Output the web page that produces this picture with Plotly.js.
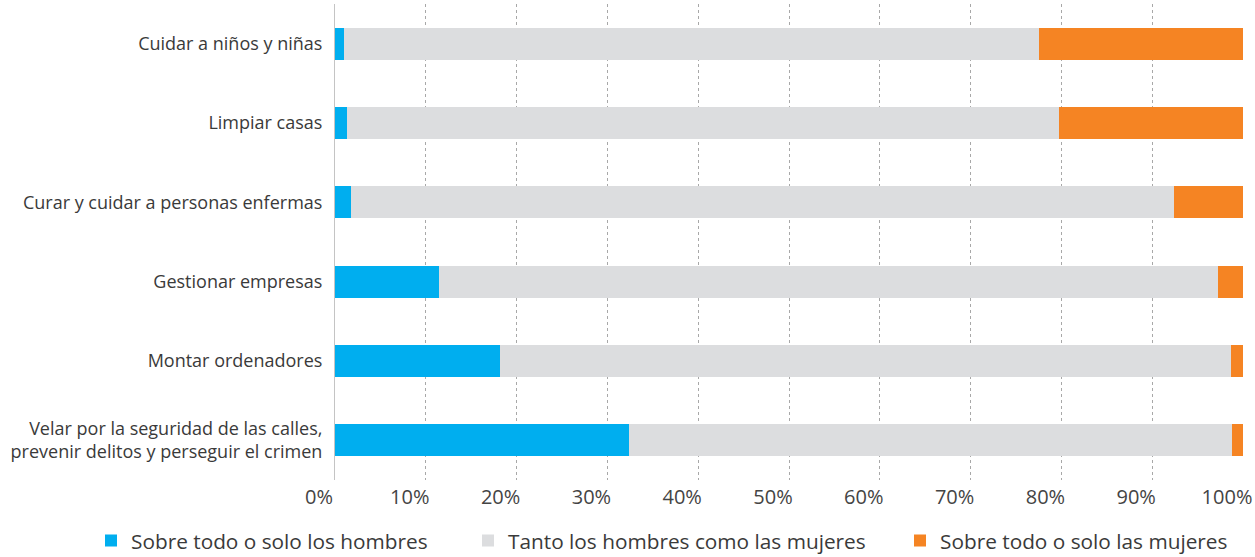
<!DOCTYPE html>
<html>
<head>
<meta charset="utf-8">
<script src="https://cdn.plot.ly/plotly-3.0.1.min.js"></script>
<style>html,body{margin:0;padding:0;background:#fff;}#chart{width:1255px;height:557px;}</style>
</head>
<body>
<div id="chart"></div>
<script>
const categories = [
  "Velar por la seguridad de las calles,<br>prevenir delitos y perseguir el crimen",
  "Montar ordenadores",
  "Gestionar empresas",
  "Curar y cuidar a personas enfermas",
  "Limpiar casas",
  "Cuidar a niños y niñas"
];
const hombres = [32.4, 18.2, 11.4, 1.8, 1.3, 1.0];
const ambos = [66.4, 80.5, 85.9, 90.6, 78.4, 76.5];
const mujeres = [1.2, 1.3, 2.7, 7.6, 20.3, 22.5];
const seriesNames = ["Sobre todo o solo los hombres", "Tanto los hombres como las mujeres", "Sobre todo o solo las mujeres"];
const tickVals = [0,10,20,30,40,50,60,70,80,90,100];
const tickText = ["0%","10%","20%","30%","40%","50%","60%","70%","80%","90%","100%"];

const colors = ["#00aeef", "#dcdddf", "#f58423"];
const legendIds = ["legend", "legend2", "legend3"];
const data = [hombres, ambos, mujeres].map((vals, i) => ({
  type: "bar",
  orientation: "h",
  y: categories,
  x: vals,
  name: seriesNames[i],
  legend: legendIds[i],
  width: 0.4,
  marker: {color: colors[i], line: {width: 0}},
  hoverinfo: "x+name"
}));

function legendAt(px) {
  return {
    orientation: "h",
    x: px / 1255,
    xref: "container",
    xanchor: "left",
    y: 16 / 557,
    yref: "container",
    yanchor: "middle",
    font: {size: 20.8, color: "#3a3a3a"},
    bgcolor: "rgba(0,0,0,0)"
  };
}

const layout = {
  barmode: "stack",
  width: 1255,
  height: 557,
  margin: {l: 335, r: 12, t: 4, b: 77},
  paper_bgcolor: "#fff",
  plot_bgcolor: "#fff",
  font: {family: "Open Sans, sans-serif", color: "#3a3a3a", size: 18},
  xaxis: {
    range: [0, 100],
    tickvals: tickVals,
    ticktext: tickText,
    showgrid: true,
    gridcolor: "#a8a8a8",
    griddash: "3px,3px",
    gridwidth: 1,
    zeroline: false,
    showline: false,
    ticks: "",
    ticklabelstandoff: 3,
    ticklabelshift: -16,
    ticklabeloverflow: "allow",
    tickfont: {size: 20, color: "#444444"},
    fixedrange: true
  },
  yaxis: {
    categoryorder: "array",
    categoryarray: categories,
    range: [-0.5, 5.5],
    showgrid: false,
    zeroline: false,
    showline: true,
    linecolor: "#c4c4c4",
    linewidth: 1,
    ticks: "",
    ticklabelstandoff: 8,
    tickfont: {size: 18, color: "#3a3a3a"},
    fixedrange: true
  },
  showlegend: true,
  legend: legendAt(91),
  legend2: legendAt(468),
  legend3: legendAt(900)
};

Plotly.newPlot("chart", data, layout, {displayModeBar: false, staticPlot: true});
</script>
</body>
</html>
